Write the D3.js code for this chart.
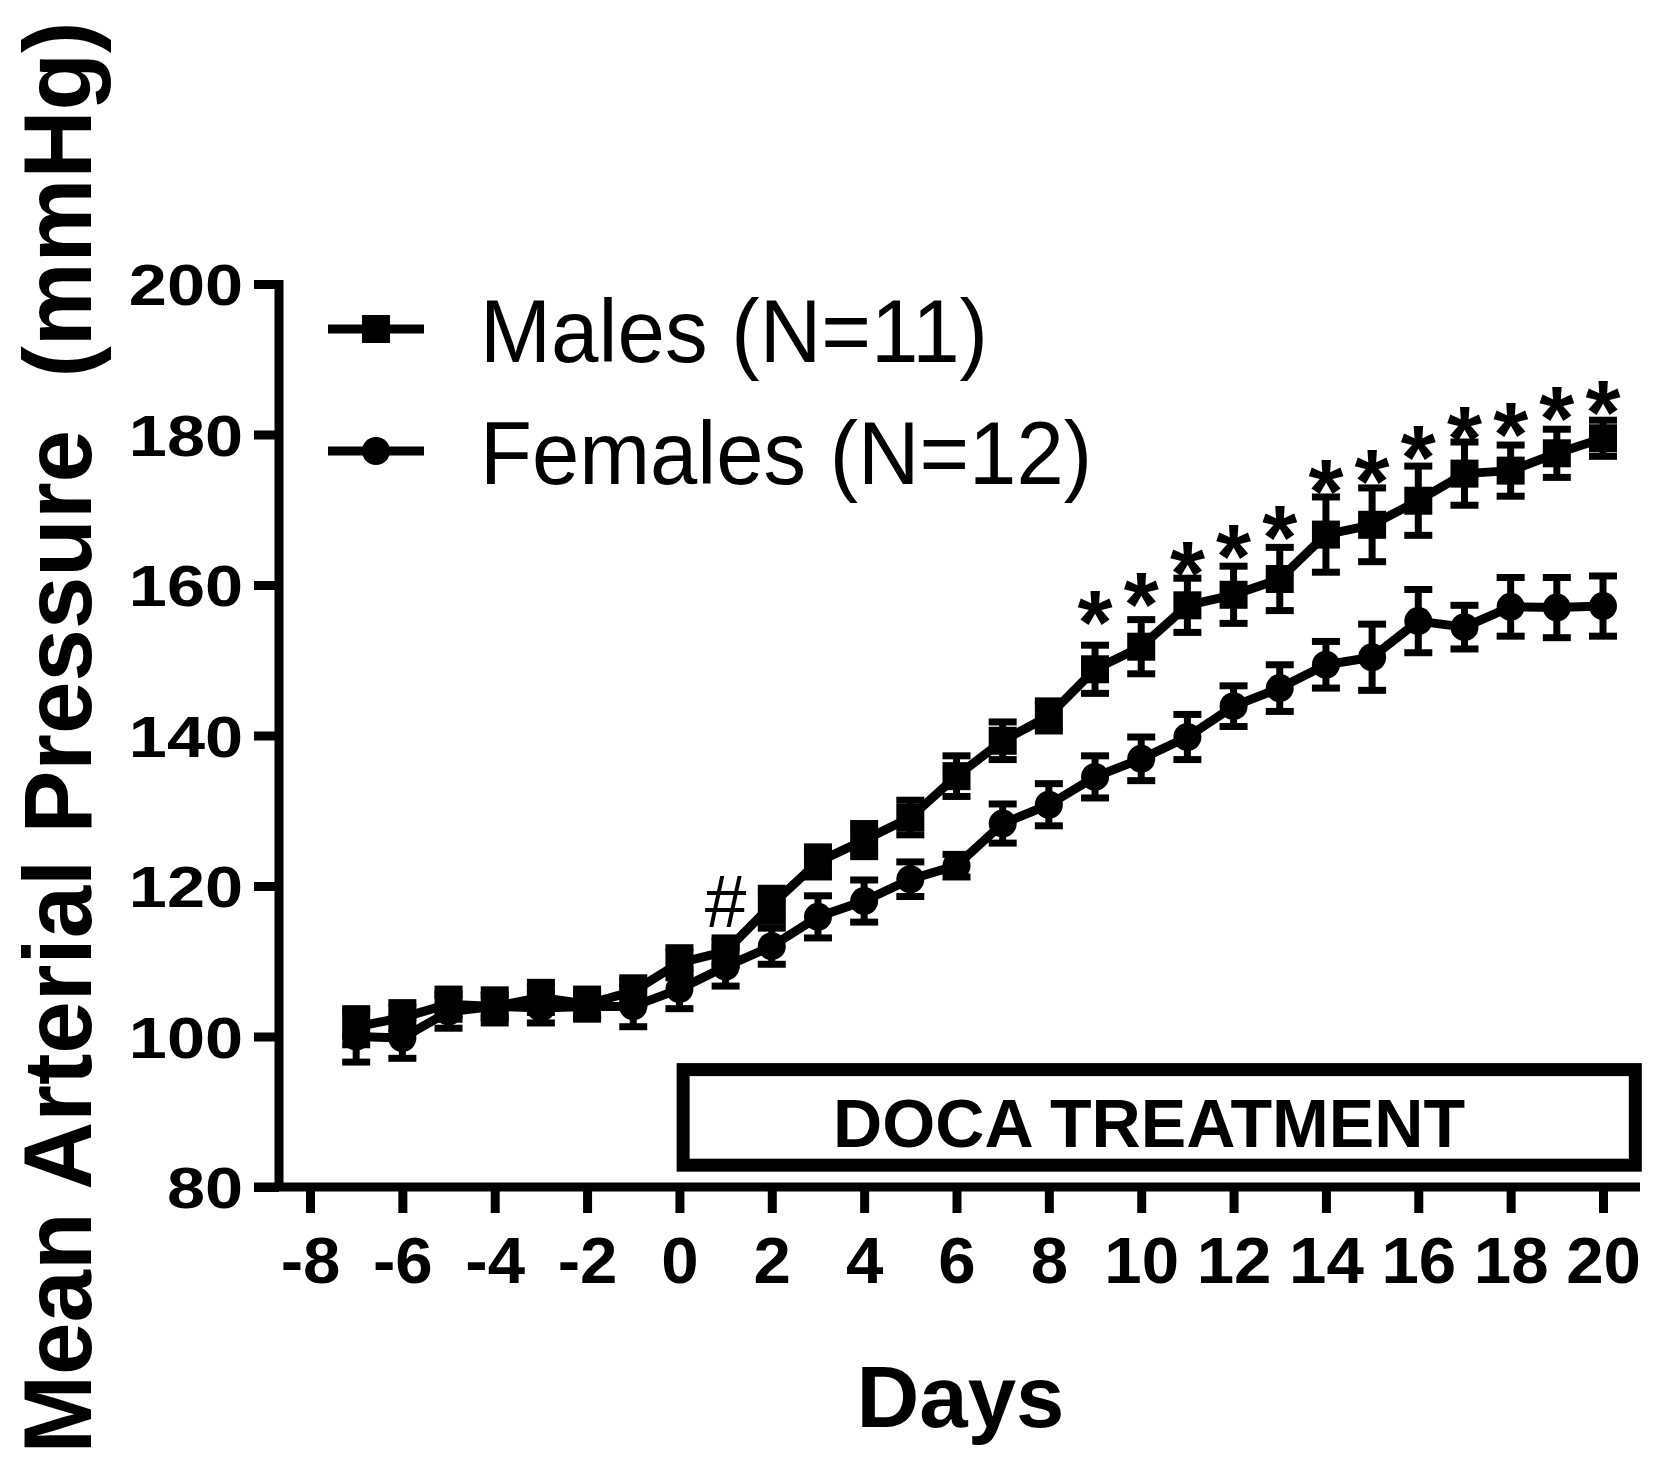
<!DOCTYPE html>
<html>
<head>
<meta charset="utf-8">
<script src="https://cdn.jsdelivr.net/npm/d3@7/dist/d3.min.js"></script>
<style>
  html, body { margin: 0; padding: 0; background: #fff; }
  svg { display: block; }
  text { font-family: "Liberation Sans", Arial, Helvetica, sans-serif; fill: #000; }
</style>
</head>
<body>
<div id="chart"></div>
<script>
// ---- data ----
const days = [-7,-6,-5,-4,-3,-2,-1,0,1,2,3,4,5,6,7,8,9,10,11,12,13,14,15,16,17,18,19,20];
const malesMean = [101.3,102.5,104.3,104.0,105.2,104.3,106.0,109.8,111.3,117.5,123.2,126.1,129.1,134.6,139.3,142.6,148.8,151.8,157.3,158.7,160.8,166.7,168.0,171.2,174.8,175.2,177.5,179.5];
const malesSem  = [2.4,2.0,2.0,2.2,2.0,2.0,1.8,2.0,1.8,2.2,2.0,2.2,2.3,2.7,2.5,2.0,3.2,3.6,3.6,3.8,4.2,5.0,4.9,4.6,4.2,3.4,3.2,2.4];
const femalesMean = [100.0,99.8,103.3,104.0,103.8,104.0,104.0,106.3,109.3,112.0,115.9,118.0,120.9,122.7,128.3,130.8,134.5,136.9,139.8,143.9,146.3,149.4,150.4,155.2,154.4,157.1,157.0,157.2];
const femalesSem  = [3.4,2.7,2.2,1.5,2.0,1.5,2.7,2.6,2.6,2.4,2.8,2.8,2.3,1.5,2.6,2.8,2.8,2.9,3.0,2.7,3.1,3.1,4.4,4.2,2.9,3.9,4.0,4.0];
const starDays   = [9,10,11,12,13,14,15,16,17,18,19,20];
const starLevels = [157.5,159.9,164.1,166.3,168.8,174.9,176.3,179.5,182.0,182.5,184.7,185.5];
const hashDay = 1, hashLevel = 114.5;
const xTicks = [-8,-6,-4,-2,0,2,4,6,8,10,12,14,16,18,20];
const yTicks = [80,100,120,140,160,180,200];
const legendLabels = ["Males (N=11)", "Females (N=12)"];
const xTitle = "Days";
const yTitle = "Mean Arterial Pressure  (mmHg)";
const boxLabel = "DOCA TREATMENT";
const boxDays = [0.08, 20.7];    // span of the treatment box in day units
const boxLevels = [95.6, 82.9];  // top / bottom of the box in mmHg units

// ---- layout ----
const W = 1654, H = 1468;
const x = d3.scaleLinear().domain([-8, 20]).range([310, 1603]);
const y = d3.scaleLinear().domain([80, 200]).range([1187, 284]);
const LW = 9, EBW = 7, CAP = 14, MS = 28;

const svg = d3.select("#chart").append("svg")
  .attr("width", W).attr("height", H).attr("viewBox", `0 0 ${W} ${H}`);

// Y axis
const yAxisX = 279;
const gy = svg.append("g").attr("transform", `translate(${yAxisX},0)`)
  .call(d3.axisLeft(y).tickValues(yTicks).tickSize(25).tickSizeOuter(0).tickFormat(d => String(d)));
gy.select(".domain").remove();
gy.append("line").attr("x1", 0).attr("x2", 0).attr("y1", y(200) - 4).attr("y2", y(80))
  .attr("stroke", "#000").attr("stroke-width", LW);
gy.selectAll(".tick line").attr("stroke", "#000").attr("stroke-width", LW);
gy.selectAll(".tick text")
  .attr("x", 0).attr("dy", "0.36em")
  .attr("transform", "translate(-36,0) scale(1.18,1)")
  .style("font-size", "58px").style("font-weight", "bold").attr("fill", "#000");

// X axis
const gx = svg.append("g").attr("transform", `translate(0,${y(80)})`)
  .call(d3.axisBottom(x).tickValues(xTicks).tickSize(26).tickSizeOuter(0).tickFormat(d => String(d)));
gx.select(".domain").remove();
gx.append("line").attr("x1", x(-8) - 56).attr("x2", x(20) + 37).attr("y1", 0).attr("y2", 0)
  .attr("stroke", "#000").attr("stroke-width", LW);
gx.selectAll(".tick line").attr("stroke", "#000").attr("stroke-width", LW);
gx.selectAll(".tick text")
  .attr("y", 96).attr("dy", 0)
  .attr("transform", "scale(1.05,1)")
  .style("font-size", "64px").style("font-weight", "bold").attr("fill", "#000");

// Axis titles
svg.append("text")
  .attr("transform", `translate(91,${(y(80)+y(200))/2 + 2}) rotate(-90) scale(0.972,1)`)
  .attr("text-anchor", "middle")
  .style("white-space", "pre")
  .style("font-size", "97px").style("font-weight", "bold")
  .text(yTitle);

svg.append("text")
  .attr("x", (x(-8) + x(20)) / 2 + 4).attr("y", 1427)
  .attr("text-anchor", "middle")
  .style("font-size", "87px").style("font-weight", "bold")
  .text(xTitle);

// DOCA box
svg.append("rect")
  .attr("x", x(boxDays[0])).attr("y", y(boxLevels[0]))
  .attr("width", x(boxDays[1]) - x(boxDays[0]))
  .attr("height", y(boxLevels[1]) - y(boxLevels[0]))
  .attr("fill", "none").attr("stroke", "#000").attr("stroke-width", 13);
svg.append("text")
  .attr("x", 1149).attr("y", 1147)
  .attr("text-anchor", "middle")
  .attr("textLength", 632).attr("lengthAdjust", "spacingAndGlyphs")
  .style("font-size", "69px").style("font-weight", "bold")
  .text(boxLabel);

// Series
const series = [
  { mean: malesMean, sem: malesSem, shape: "square" },
  { mean: femalesMean, sem: femalesSem, shape: "circle" }
];

const line = d3.line().x(d => x(d[0])).y(d => y(d[1]));

series.forEach(s => {
  const pts = days.map((d, i) => [d, s.mean[i], s.sem[i]]);
  const g = svg.append("g");
  // error bars
  const eb = g.append("g").attr("stroke", "#000").attr("stroke-width", EBW);
  eb.selectAll("line.v").data(pts).join("line").attr("class", "v")
    .attr("x1", d => x(d[0])).attr("x2", d => x(d[0]))
    .attr("y1", d => y(d[1] - d[2])).attr("y2", d => y(d[1] + d[2]));
  eb.selectAll("line.t").data(pts).join("line").attr("class", "t")
    .attr("x1", d => x(d[0]) - CAP).attr("x2", d => x(d[0]) + CAP)
    .attr("y1", d => y(d[1] + d[2])).attr("y2", d => y(d[1] + d[2]));
  eb.selectAll("line.b").data(pts).join("line").attr("class", "b")
    .attr("x1", d => x(d[0]) - CAP).attr("x2", d => x(d[0]) + CAP)
    .attr("y1", d => y(d[1] - d[2])).attr("y2", d => y(d[1] - d[2]));
  // line
  g.append("path").datum(pts).attr("d", line)
    .attr("fill", "none").attr("stroke", "#000").attr("stroke-width", LW)
    .attr("stroke-linejoin", "round");
  // markers
  if (s.shape === "square") {
    g.selectAll("rect").data(pts).join("rect")
      .attr("x", d => x(d[0]) - MS / 2).attr("y", d => y(d[1]) - MS / 2)
      .attr("width", MS).attr("height", MS).attr("fill", "#000");
  } else {
    g.selectAll("circle").data(pts).join("circle")
      .attr("cx", d => x(d[0])).attr("cy", d => y(d[1])).attr("r", MS / 2).attr("fill", "#000");
  }
});

// significance marks
const STAR_FS = 90;
svg.selectAll("text.star").data(starDays).join("text").attr("class", "star")
  .attr("x", d => x(d)).attr("y", (d, i) => y(starLevels[i]) + 0.56 * STAR_FS)
  .attr("text-anchor", "middle")
  .style("font-size", STAR_FS + "px").style("font-weight", "bold")
  .text("*");
svg.append("text")
  .attr("x", x(hashDay)).attr("y", y(hashLevel))
  .attr("text-anchor", "middle")
  .style("font-size", "75px")
  .text("#");

// Legend
const legend = svg.append("g");
const legY = [329, 451];
legendLabels.forEach((lab, i) => {
  const gl = legend.append("g").attr("transform", `translate(0,${legY[i]})`);
  gl.append("line").attr("x1", 328).attr("x2", 424).attr("y1", 0).attr("y2", 0)
    .attr("stroke", "#000").attr("stroke-width", LW);
  if (i === 0) {
    gl.append("rect").attr("x", 376 - MS / 2).attr("y", -MS / 2).attr("width", MS).attr("height", MS).attr("fill", "#000");
  } else {
    gl.append("circle").attr("cx", 376).attr("cy", 0).attr("r", MS / 2).attr("fill", "#000");
  }
  gl.append("text")
    .attr("x", 480).attr("y", 33)
    .attr("textLength", i === 0 ? 508 : 612).attr("lengthAdjust", "spacingAndGlyphs")
    .style("font-size", "89px")
    .text(lab);
});
</script>
</body>
</html>
